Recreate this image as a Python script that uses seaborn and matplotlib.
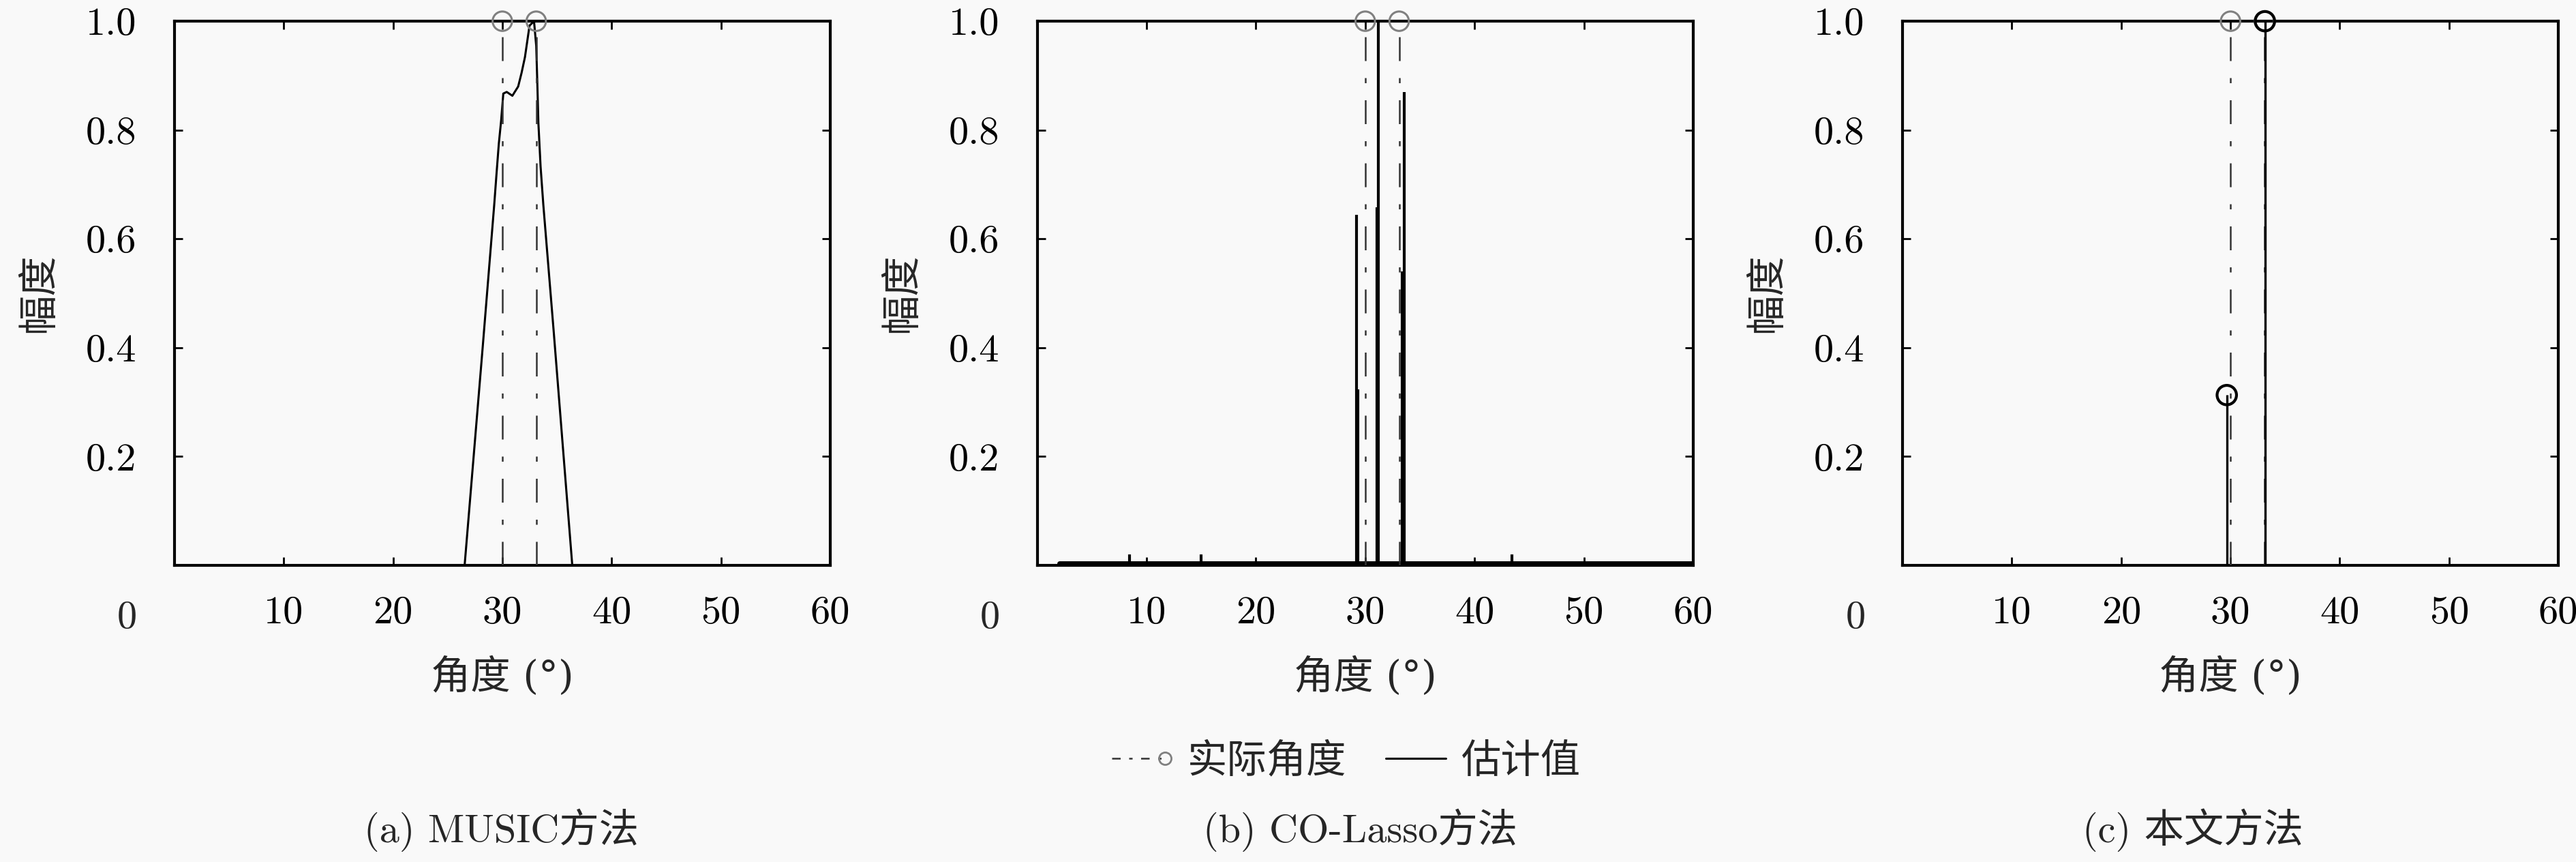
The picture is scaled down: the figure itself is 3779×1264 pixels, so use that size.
import numpy as np
import pandas as pd
import seaborn as sns
import matplotlib.pyplot as plt
from matplotlib.lines import Line2D
from matplotlib.legend_handler import HandlerLine2D

# data
true_angles = [30.0, 33.1]
true_amp = [1.0, 1.0]

music_angle = [0, 26.55, 28.2, 29.26, 29.47, 29.68, 29.89, 30.09, 30.4, 30.92, 31.45,
               31.76, 32.07, 32.28, 32.49, 32.9, 33.1, 33.2, 33.3, 33.5, 33.75, 34.7, 36.4, 60]
music_amp = [0, 0, 0.40, 0.663, 0.72, 0.775, 0.817, 0.867, 0.87, 0.863, 0.88,
             0.905, 0.934, 0.963, 0.992, 1.0, 0.955, 0.888, 0.813, 0.733, 0.663, 0.43, 0, 0]

lasso_angle = [8.4, 15.0, 29.17, 29.33, 31.05, 31.2, 33.38, 33.58, 43.4]
lasso_amp = [0.02, 0.02, 0.644, 0.324, 0.658, 1.0, 0.54, 0.87, 0.02]
lasso_floor_angle = [2.0, 60.0]
lasso_floor_amp = [0.004, 0.004]

prop_angle = [29.66, 33.15]
prop_amp = [0.313, 1.0]

xticks = [10, 20, 30, 40, 50, 60]
yticks = [0.2, 0.4, 0.6, 0.8, 1.0]
captions = ['(a) MUSIC方法', '(b) CO-Lasso方法', '(c) 本文方法']
legend_labels = ['实际角度', '估计值']

sns.set_theme(style='ticks')
plt.rcParams['font.family'] = ['cmr10', 'Noto Sans CJK SC', 'DejaVu Sans']
plt.rcParams['axes.formatter.use_mathtext'] = True
plt.rcParams['mathtext.fontset'] = 'cm'

bg = '#f9f9f9'
fs = 42
dashdot = (0, (14, 10, 3, 10))
true_col = '#333333'
mark_col = '#808080'


class EndMarkerHandler(HandlerLine2D):
    # legend entry drawn as "- . o": marker at the right end of the line
    def create_artists(self, legend, orig_handle, xdescent, ydescent, width, height,
                       fontsize, trans):
        arts = super().create_artists(legend, orig_handle, xdescent, ydescent, width,
                                      height, fontsize, trans)
        line = arts[0]
        x0, x1 = -xdescent, -xdescent + width
        y = line.get_ydata()[0]
        line.set_data([x0, 0.5 * (x0 + x1), x1 - 0.1 * width], [y, y, y])
        line.set_markevery([2])
        return arts


fig = plt.figure(figsize=(37.8, 12.64), dpi=100, facecolor=bg)
lefts = [0.0677, 0.4026, 0.7384]
axes = [fig.add_axes([l, 0.3441, 0.2545, 0.6313], facecolor=bg) for l in lefts]


def true_marks(ax):
    ax.vlines(true_angles, 0, true_amp, colors=true_col, linestyles=[dashdot], lw=1.8, zorder=3)
    sns.scatterplot(x=true_angles, y=true_amp, ax=ax, marker='o', s=420, fc='none',
                    ec=mark_col, linewidth=2.2, zorder=4)
    ax.collections[-1].set_clip_on(False)


# (a) MUSIC
ax = axes[0]
sns.lineplot(x=music_angle, y=music_amp, ax=ax, color='black', lw=2.2, zorder=2)
true_marks(ax)

# (b) CO-Lasso
ax = axes[1]
sns.lineplot(x=lasso_floor_angle, y=lasso_floor_amp, ax=ax, color='black', lw=5, zorder=2)
ax.vlines(lasso_angle, 0, lasso_amp, colors='black', lw=3, zorder=2)
true_marks(ax)

# (c) proposed
ax = axes[2]
true_marks(ax)
ax.vlines(prop_angle, 0, prop_amp, colors='black', lw=2.4, zorder=5)
sns.scatterplot(x=prop_angle, y=prop_amp, ax=ax, marker='o', s=420, fc='none',
                ec='black', linewidth=3, zorder=6)
ax.collections[-1].set_clip_on(False)

for ax, cap, cx in zip(axes, captions, [0.1946, 0.528, 0.851]):
    ax.set_xlim(0, 60)
    ax.set_ylim(0, 1)
    ax.set_xticks(xticks)
    ax.set_xticklabels([str(t) for t in xticks])
    ax.set_yticks(yticks)
    ax.set_yticklabels(['%.1f' % t for t in yticks])
    ax.tick_params(direction='in', top=True, right=True, length=8.5, width=2,
                   labelsize=fs, color='black', labelcolor='black')
    ax.tick_params(axis='x', pad=32)
    ax.tick_params(axis='y', pad=40)
    for sp in ax.spines.values():
        sp.set_visible(True)
        sp.set_linewidth(3)
        sp.set_color('black')
    ax.text(-0.072, -0.065, '0', transform=ax.transAxes, ha='center', va='top', fontsize=fs)
    ax.set_xlabel('角度 (°)', fontsize=fs, va='center',
                  family=['DejaVu Serif', 'Noto Sans CJK SC'])
    ax.xaxis.set_label_coords(0.5, -0.205)
    ax.set_ylabel('幅度', fontsize=fs, va='center', ha='center')
    ax.yaxis.set_label_coords(-0.207, 0.5)
    fig.text(cx, 0.037, cap, ha='center', va='center', fontsize=fs)

handles = [Line2D([], [], color=true_col, ls=(0, (5, 5, 2, 5)), lw=1.8, marker='o', ms=13,
                  mfc='none', mec=mark_col, mew=2),
           Line2D([], [], color='black', lw=2.2)]
fig.legend(handles, legend_labels, loc='center', bbox_to_anchor=(0.5225, 0.117), ncol=2,
           frameon=False, fontsize=fs, handlelength=1.5, columnspacing=1.0,
           handletextpad=0.4, numpoints=1,
           handler_map={handles[0]: EndMarkerHandler()})

fig.savefig('out.png', dpi=100, facecolor=bg)
